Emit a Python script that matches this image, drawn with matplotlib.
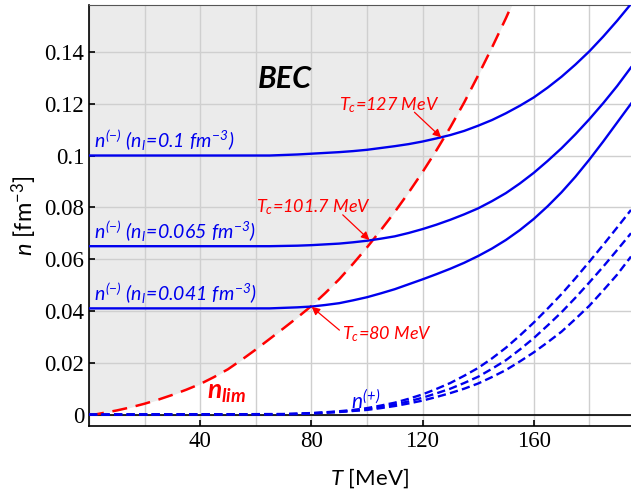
import matplotlib
matplotlib.use("Agg")
import matplotlib.pyplot as plt
from matplotlib.ticker import MultipleLocator, FuncFormatter

plt.rcParams["font.family"] = ["Lato", "DejaVu Sans"]
plt.rcParams["mathtext.fontset"] = "custom"
plt.rcParams["mathtext.rm"] = "Lato:italic"
plt.rcParams["mathtext.it"] = "Lato:italic"
plt.rcParams["mathtext.bf"] = "Lato:bold:italic"
plt.rcParams["mathtext.sf"] = "Lato"

# n_lim (BEC boundary)
T_lim = [0, 2, 5, 10, 15, 20, 25, 30, 35, 40, 45, 50, 55, 60, 65, 70, 75, 80, 85, 90,
         95, 100, 105, 110, 115, 120, 125, 130, 135, 140, 145, 150, 155]
n_lim = [0, 0, 0.0006, 0.0016, 0.0028, 0.0042, 0.0058, 0.0076, 0.0096, 0.0118, 0.0145,
         0.0175, 0.0212, 0.0251, 0.0292, 0.0333, 0.0375, 0.0419, 0.0469, 0.0522, 0.0582,
         0.0645, 0.0712, 0.0782, 0.0857, 0.0936, 0.1020, 0.1109, 0.1205, 0.1309, 0.1417,
         0.1530, 0.1650]

# n^(-) solid curves (n_l = 0.1, 0.065, 0.041)
T_m = [0, 60, 65, 70, 75, 80, 85, 90, 95, 100, 105, 110, 115, 120, 125, 130, 135, 140,
       145, 150, 155, 160, 165, 170, 175, 180, 185, 190, 195]
n_a = [0.1, 0.1, 0.1000, 0.1002, 0.1004, 0.1007, 0.1010, 0.1013, 0.1017, 0.1022, 0.1029,
       0.1036, 0.1044, 0.1054, 0.1066, 0.1079, 0.1095, 0.1115, 0.1137, 0.1163, 0.1192,
       0.1224, 0.1262, 0.1304, 0.1351, 0.1402, 0.1459, 0.1520, 0.1585]
n_b = [0.065, 0.065, 0.0650, 0.0651, 0.0652, 0.0654, 0.0657, 0.0660, 0.0665, 0.0671, 0.0679,
       0.0688, 0.0701, 0.0716, 0.0733, 0.0752, 0.0773, 0.0796, 0.0824, 0.0855, 0.0892,
       0.0933, 0.0979, 0.1028, 0.1082, 0.1140, 0.1202, 0.1268, 0.1340]
n_c = [0.041, 0.041, 0.0410, 0.0412, 0.0414, 0.0417, 0.0423, 0.0430, 0.0441, 0.0453, 0.0468,
       0.0484, 0.0503, 0.0522, 0.0542, 0.0563, 0.0586, 0.0612, 0.0641, 0.0674, 0.0712,
       0.0755, 0.0804, 0.0858, 0.0918, 0.0984, 0.1054, 0.1127, 0.1200]

# n^(+) dashed curves
T_p = [0, 70, 75, 80, 85, 90, 95, 100, 105, 110, 115, 120, 125, 130, 135, 140, 145, 150,
       155, 160, 165, 170, 175, 180, 185, 190, 195]
n_p1 = [0, 0.0002, 0.0004, 0.0006, 0.0009, 0.0013, 0.0018, 0.0025, 0.0035, 0.0046, 0.0061,
        0.0078, 0.0099, 0.0122, 0.0150, 0.0180, 0.0217, 0.0258, 0.0305, 0.0355, 0.0409,
        0.0465, 0.0526, 0.0590, 0.0655, 0.0722, 0.0790]
n_p2 = [0, 0.0002, 0.0003, 0.0005, 0.0008, 0.0011, 0.0015, 0.0021, 0.0029, 0.0039, 0.0051,
        0.0065, 0.0082, 0.0100, 0.0122, 0.0146, 0.0177, 0.0210, 0.0251, 0.0295, 0.0344,
        0.0395, 0.0451, 0.0510, 0.0571, 0.0635, 0.0700]
n_p3 = [0, 0.0001, 0.0002, 0.0004, 0.0007, 0.0010, 0.0014, 0.0018, 0.0025, 0.0033, 0.0043,
        0.0054, 0.0068, 0.0083, 0.0100, 0.0120, 0.0145, 0.0172, 0.0205, 0.0240, 0.0279,
        0.0320, 0.0369, 0.0420, 0.0479, 0.0540, 0.0610]

blue = "#0000ee"

fig = plt.figure(figsize=(6.31, 4.93), dpi=100)
ax = fig.add_axes([0.1410, 0.1359, 0.8590, 0.8540])

# BEC shaded region left of n_lim
ax.fill_betweenx(n_lim, 0, T_lim, color="#ebebeb", lw=0, zorder=1)

ax.axhline(0, color="black", lw=1.2, zorder=2)

ax.plot(T_lim, n_lim, color="red", lw=1.8, dashes=(6, 3.5), zorder=3)
for n in [n_a, n_b, n_c]:
    ax.plot(T_m, n, color=blue, lw=1.7, zorder=3)
for n in [n_p1, n_p2, n_p3]:
    ax.plot(T_p, n, color=blue, lw=1.7, dashes=(3.5, 1.8), zorder=3)

ax.set_xlim(0, 195)
ax.set_ylim(-0.0044, 0.1581)
ax.xaxis.set_minor_locator(MultipleLocator(20))
ax.yaxis.set_major_locator(MultipleLocator(0.02))
ax.set_xticks([40, 80, 120, 160])
ax.yaxis.set_major_formatter(FuncFormatter(lambda v, p: "%g" % round(v, 3)))
ax.grid(True, which="both", color="#cfcfcf", lw=1.0)
ax.tick_params(which="major", direction="in", length=4, width=1.2,
               labelsize=16.5, labelfontfamily="Liberation Serif")
ax.tick_params(which="minor", length=0)
ax.spines["right"].set_visible(False)
ax.spines["top"].set_color("#555555")
ax.spines["left"].set_linewidth(1.2)
ax.spines["bottom"].set_linewidth(1.2)

ax.set_xlabel(r"$T$ [MeV]", fontsize=16)
ax.xaxis.set_label_coords(0.518, -0.095)
ax.set_ylabel(r"$n$ [fm$^{\mathsf{-3}}$]", fontsize=17, labelpad=4)

ax.text(1.8, 0.1010, r"$n^{(-)}\ (n_l\!=\!0.1\ fm^{-3})$", color=blue, fontsize=14, va="bottom")
ax.text(1.8, 0.0658, r"$n^{(-)}\ (n_l\!=\!0.065\ fm^{-3})$", color=blue, fontsize=14, va="bottom")
ax.text(1.8, 0.0418, r"$n^{(-)}\ (n_l\!=\!0.041\ fm^{-3})$", color=blue, fontsize=14, va="bottom")
ax.text(94.4, 0.0021, r"$n^{(+)}$", color=blue, fontsize=15, va="baseline")

ax.text(70.3, 0.1295, "BEC", fontsize=22, fontweight="bold", fontstyle="italic",
        ha="center", va="center")
ax.text(42.5, 0.0062, r"$\mathbf{n_{lim}}$", color="red", fontsize=19, va="baseline")

arrow = dict(arrowstyle="-|>", color="red", lw=0.9, mutation_scale=12, shrinkA=0, shrinkB=0)
ax.text(90.1, 0.1175, r"$T_c$=127 MeV", color="red", fontsize=13, fontstyle="italic", va="baseline")
ax.annotate("", xy=(126.7, 0.1070), xytext=(117.1, 0.1167), arrowprops=arrow)
ax.text(60.2, 0.0780, r"$T_c$=101.7 MeV", color="red", fontsize=13, fontstyle="italic", va="baseline")
ax.annotate("", xy=(100.9, 0.0674), xytext=(91.3, 0.0771), arrowprops=arrow)
ax.text(91.0, 0.0292, r"$T_c$=80 MeV", color="red", fontsize=13, fontstyle="italic", va="baseline")
ax.annotate("", xy=(80.1, 0.0416), xytext=(90.1, 0.0326), arrowprops=arrow)

fig.savefig("out.png", dpi=100)
